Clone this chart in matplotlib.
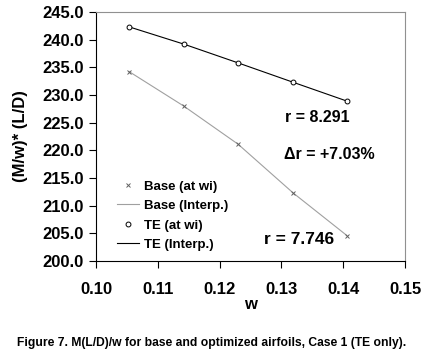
import matplotlib
matplotlib.use("Agg")
import matplotlib.pyplot as plt

plt.rcParams['font.family'] = ['Liberation Sans', 'DejaVu Sans']
plt.rcParams['font.weight'] = 'bold'

# valeurs
w = [0.1054, 0.1142, 0.1230, 0.1319, 0.1406]
base = [234.2, 228.0, 221.1, 212.3, 204.6]
te = [242.3, 239.2, 235.8, 232.3, 228.9]

xticks = [0.10, 0.11, 0.12, 0.13, 0.14, 0.15]
yticks = [200.0, 205.0, 210.0, 215.0, 220.0, 225.0, 230.0, 235.0, 240.0, 245.0]

fig = plt.figure(figsize=(4.30, 3.55), dpi=100)
ax = fig.add_axes([96 / 430, 1 - 261 / 355, (405 - 96) / 430, (261 - 12) / 355])

gris = '#a0a0a0'
ax.plot(w, base, linestyle='none', marker='x', color='#606060', ms=3.5, mew=0.7,
        label='Base (at wi)', zorder=4)
ax.plot(w, base, color=gris, lw=0.8, label='Base (Interp.)', zorder=3)
ax.plot(w, te, linestyle='none', marker='o', mfc='white', mec='black', ms=3.5, mew=0.7,
        label='TE (at wi)', zorder=4)
ax.plot(w, te, color='black', lw=0.8, label='TE (Interp.)', zorder=3)

ax.set_xlim(0.10, 0.15)
ax.set_ylim(200, 245)
ax.set_xticks(xticks)
ax.set_xticklabels([f'{v:.2f}' for v in xticks])
ax.set_yticks(yticks)
ax.set_yticklabels([f'{v:.1f}' for v in yticks])
ax.tick_params(axis='both', labelsize=12, length=5, width=0.8, direction='out', pad=4)
ax.tick_params(axis='x', pad=10)

for s in ['left', 'bottom']:
    ax.spines[s].set_color('black')
    ax.spines[s].set_linewidth(0.8)
for s in ['top', 'right']:
    ax.spines[s].set_color('#909090')
    ax.spines[s].set_linewidth(0.8)

ax.set_xlabel('w', fontsize=12, fontweight='bold', labelpad=0)
ax.set_ylabel('(M/w)* (L/D)', fontsize=12, fontweight='bold', labelpad=10)

ax.text(0.1306, 226.0, 'r = 8.291', fontsize=11.5, fontweight='bold', va='center')
ax.text(0.1304, 219.2, '\u0394r = +7.03%', fontsize=11.5, fontweight='bold', va='center')
ax.text(0.1272, 203.9, 'r = 7.746', fontsize=12.5, fontweight='bold', va='center')

leg = ax.legend(loc='upper left', bbox_to_anchor=(0.05, 0.345), frameon=False,
                fontsize=9.5, handlelength=1.7, handletextpad=0.4,
                labelspacing=0.55, borderaxespad=0)

fig.text(0.04, 1 - 343 / 355,
         'Figure 7. M(L/D)/w for base and optimized airfoils, Case 1 (TE only).',
         fontsize=8.7, fontweight='bold', va='center')

fig.savefig('out.png', dpi=100)
